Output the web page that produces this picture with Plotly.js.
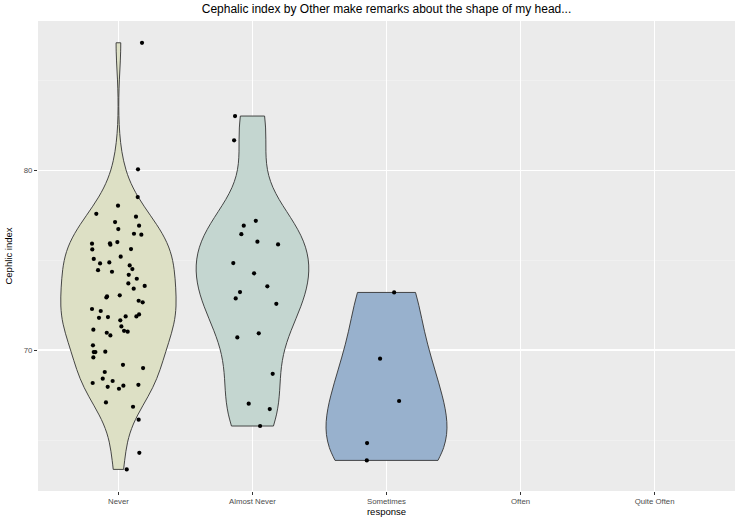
<!DOCTYPE html>
<html>
<head>
<meta charset="utf-8">
<script src="https://cdn.plot.ly/plotly-3.0.1.min.js"></script>
<style>html,body{margin:0;padding:0;background:#fff;}#chart{width:738px;height:517px;}</style>
</head>
<body>
<div id="chart"></div>
<script>
const categories = ["Never", "Almost Never", "Sometimes", "Often", "Quite Often"];

const neverValues = [87.07, 80.04, 78.5, 78.02, 77.57, 77.41, 77.11, 76.91, 76.72, 76.46, 76.41, 75.91, 75.93, 75.85, 76.0, 75.61, 75.59, 75.06, 75.19, 74.81, 74.87, 74.70, 74.5, 74.44, 74.35, 74.18, 73.96, 73.70, 73.56, 73.41, 73.04, 72.98, 72.92, 72.74, 72.65, 72.28, 72.17, 71.98, 71.87, 71.87, 71.79, 71.83, 71.65, 71.31, 71.07, 71.02, 71.13, 70.96, 70.81, 70.26, 69.89, 69.89, 69.91, 69.59, 69.18, 69.0, 68.78, 68.41, 68.28, 68.17, 68.07, 68.02, 67.96, 67.85, 67.09, 66.85, 66.13, 64.29, 63.37];
const neverJitter = [0.176, 0.146, 0.144, -0.003, -0.165, 0.131, -0.025, 0.154, -0.001, 0.116, 0.171, -0.197, -0.063, -0.060, -0.008, 0.094, -0.195, -0.184, 0.017, -0.137, -0.068, 0.084, 0.104, -0.152, -0.048, 0.077, 0.137, 0.074, 0.196, 0.114, 0.010, -0.085, -0.090, 0.151, 0.181, -0.197, -0.132, 0.154, 0.134, 0.054, -0.145, -0.078, 0.014, 0.022, 0.042, 0.069, -0.187, -0.087, -0.060, -0.190, -0.184, -0.172, -0.098, -0.187, 0.034, 0.184, -0.102, -0.117, -0.043, -0.192, 0.149, 0.037, -0.080, 0.004, -0.093, 0.109, 0.151, 0.156, 0.062];

const almostNeverValues = [83.0, 81.65, 77.18, 76.91, 76.44, 76.02, 75.87, 74.83, 74.26, 73.54, 73.22, 72.87, 72.57, 70.93, 70.70, 68.68, 67.02, 66.72, 65.78];
const almostNeverJitter = [-0.130, -0.137, 0.025, -0.065, -0.083, 0.037, 0.191, -0.143, 0.012, 0.111, -0.093, -0.125, 0.178, 0.047, -0.113, 0.151, -0.028, 0.129, 0.057];

const sometimesValues = [73.20, 69.52, 67.17, 64.83, 63.87];
const sometimesJitter = [0.057, -0.048, 0.094, -0.145, -0.147];

const groups = [
  {idx: 0, values: neverValues, jitter: neverJitter, fill: "#dde0c5", width: 0.86},
  {idx: 1, values: almostNeverValues, jitter: almostNeverJitter, fill: "#c4d6d0", width: 0.84},
  {idx: 2, values: sometimesValues, jitter: sometimesJitter, fill: "#98b1cd", width: 0.9}
];

function quantile7(sorted, p) {
  const h = (sorted.length - 1) * p;
  const lo = Math.floor(h), hi = Math.ceil(h);
  return sorted[lo] + (h - lo) * (sorted[hi] - sorted[lo]);
}
function nrd0(arr) {
  const n = arr.length;
  const mean = arr.reduce((a, b) => a + b, 0) / n;
  const sd = Math.sqrt(arr.reduce((a, b) => a + (b - mean) * (b - mean), 0) / (n - 1));
  const s = arr.slice().sort((a, b) => a - b);
  const iqr = quantile7(s, 0.75) - quantile7(s, 0.25);
  let lo = Math.min(sd, iqr / 1.34);
  if (!(lo > 0)) lo = sd || 1;
  return 0.9 * lo * Math.pow(n, -0.2);
}

const traces = [];
groups.forEach(g => {
  traces.push({
    type: "violin",
    y: g.values,
    x0: g.idx,
    width: g.width,
    scalemode: "width",
    spanmode: "hard",
    bandwidth: nrd0(g.values),
    points: false,
    box: {visible: false},
    meanline: {visible: false},
    fillcolor: g.fill,
    line: {color: "#333333", width: 0.9},
    hoverinfo: "skip",
    showlegend: false
  });
});
groups.forEach(g => {
  traces.push({
    type: "scatter",
    mode: "markers",
    x: g.jitter.map(j => g.idx + j),
    y: g.values,
    marker: {color: "#000000", size: 4.2},
    hoverinfo: "skip",
    showlegend: false
  });
});

const font = "Liberation Sans, Arial, Helvetica, sans-serif";
const layout = {
  width: 738,
  height: 517,
  margin: {l: 38, r: 3, t: 21, b: 26},
  paper_bgcolor: "#ffffff",
  plot_bgcolor: "#ebebeb",
  font: {family: font, color: "#000"},
  violinmode: "overlay",
  title: {
    text: "Cephalic index by Other make remarks about the shape of my head...",
    font: {family: font, size: 12, color: "#000"},
    x: 0.5, xref: "paper", xanchor: "center",
    y: 0.983, yref: "container", yanchor: "middle"
  },
  xaxis: {
    type: "linear",
    range: [-0.6, 4.6],
    tickvals: [0, 1, 2, 3, 4],
    ticktext: categories,
    showgrid: true, gridcolor: "#ffffff", gridwidth: 1.1,
    zeroline: false, showline: false,
    ticks: "outside", ticklen: 3, tickcolor: "#333333", tickwidth: 1,
    ticklabelstandoff: 0.5,
    tickfont: {family: font, size: 7.8, color: "#4d4d4d"},
    title: {text: "response", font: {family: font, size: 9.5, color: "#000"}, standoff: 0}
  },
  yaxis: {
    type: "linear",
    range: [62.17, 88.28],
    tick0: 0, dtick: 10,
    showgrid: true, gridcolor: "#ffffff", gridwidth: 1.1,
    minor: {dtick: 5, tick0: 0, showgrid: true, gridcolor: "#f4f4f4", gridwidth: 0.6},
    zeroline: false, showline: false,
    ticks: "outside", ticklen: 3, tickcolor: "#333333", tickwidth: 1,
    tickfont: {family: font, size: 7.8, color: "#4d4d4d"},
    title: {text: "Cephlic index", font: {family: font, size: 9.5, color: "#000"}, standoff: 9}
  }
};

Plotly.newPlot("chart", traces, layout, {staticPlot: true, displayModeBar: false});
</script>
</body>
</html>
